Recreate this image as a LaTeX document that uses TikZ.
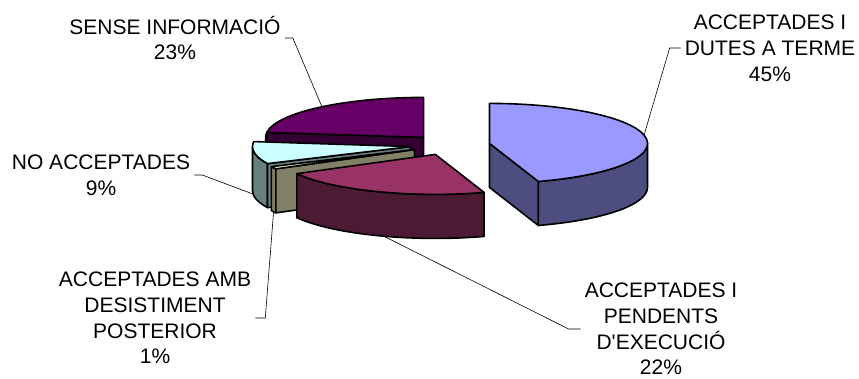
\documentclass[tikz,border=0pt]{standalone}
\usepackage{fontspec}
\setmainfont{Liberation Sans}
\usetikzlibrary{calc}
\definecolor{blue1}{HTML}{9999FF}
\definecolor{blue2}{HTML}{4D4D80}
\definecolor{maroon1}{HTML}{993366}
\definecolor{maroon2}{HTML}{4D1A33}
\definecolor{khaki1}{HTML}{FFFFCC}
\definecolor{khaki2}{HTML}{808066}
\definecolor{cyan1}{HTML}{CCFFFF}
\definecolor{cyan2}{HTML}{668080}
\definecolor{purple1}{HTML}{660066}
\definecolor{purple2}{HTML}{330033}
\begin{document}
\begin{tikzpicture}
[x=1pt, y=1pt,
slice/.style ={draw=black, line width=1.6pt, line join=round},
txt/.style ={align=center, inner sep=3pt, font=\fontsize{21}{25.8}\selectfont},
callout/.style ={draw, line width=0.6pt}]
\useasboundingbox (0,0) rectangle (859,-378);
%% sense informacio
\begin{scope}[shift={(450,-145)}, shift={(131.4:40 and 10.1)}]
\filldraw [slice, fill=purple2] (172.8:158 and 40) arc[start angle=172.8, end angle=180, x radius=158, y radius=40] -- ++(0,-44) arc[start angle=180, end angle=172.8, x radius=158, y radius=40] -- cycle;
\filldraw [slice, fill=purple2] (0,0) -- (172.8:158 and 40) -- ++(0,-44) -- (0,-44) -- cycle;
\filldraw [slice, fill=purple1] (0,0) -- (90:158 and 40) arc[start angle=90, end angle=172.8, x radius=158, y radius=40] -- cycle;
\coordinate (sensept) at (130:158 and 40);
\end{scope}
%% no acceptades
\begin{scope}[shift={(450,-145)}, shift={(189:40 and 10.1)}]
\filldraw [slice, fill=cyan2] (180:158 and 40) arc[start angle=180, end angle=205.2, x radius=158, y radius=40] -- ++(0,-44) arc[start angle=205.2, end angle=180, x radius=158, y radius=40] -- cycle;
\filldraw [slice, fill=cyan2] (0,0) -- (205.2:158 and 40) -- ++(0,-44) -- (0,-44) -- cycle;
\filldraw [slice, fill=cyan1] (0,0) -- (172.8:158 and 40) arc[start angle=172.8, end angle=205.2, x radius=158, y radius=40] -- cycle;
\coordinate (noaccpt) at ($(185:158 and 40)+(0,-44)$);
\end{scope}
%% desistiment
\begin{scope}[shift={(450,-145)}, shift={(207:40 and 10.1)}]
\filldraw [slice, fill=khaki2] (205.2:158 and 40) arc[start angle=205.2, end angle=208.8, x radius=158, y radius=40] -- ++(0,-44) arc[start angle=208.8, end angle=205.2, x radius=158, y radius=40] -- cycle;
\filldraw [slice, fill=khaki2] (0,0) -- (208.8:158 and 40) -- ++(0,-44) -- (0,-44) -- cycle;
\filldraw [slice, fill=khaki1] (0,0) -- (205.2:158 and 40) arc[start angle=205.2, end angle=208.8, x radius=158, y radius=40] -- cycle;
\coordinate (desistpt) at ($(207:158 and 40)+(0,-44)$);
\end{scope}
%% pendents
\begin{scope}[shift={(450,-145)}, shift={(248.4:40 and 10.1)}]
\filldraw [slice, fill=maroon2] (208.8:158 and 40) arc[start angle=208.8, end angle=288, x radius=158, y radius=40] -- ++(0,-44) arc[start angle=288, end angle=208.8, x radius=158, y radius=40] -- cycle;
\filldraw [slice, fill=maroon1] (0,0) -- (208.8:158 and 40) arc[start angle=208.8, end angle=288, x radius=158, y radius=40] -- cycle;
\coordinate (pendpt) at ($(251:158 and 40)+(0,-44)$);
\end{scope}
%% dutes a terme
\begin{scope}[shift={(450,-145)}, shift={(9:40 and 10.1)}]
\filldraw [slice, fill=blue2] (0,0) -- (-72:158 and 40) -- ++(0,-44) -- (0,-44) -- cycle;
\filldraw [slice, fill=blue2] (-72:158 and 40) arc[start angle=-72, end angle=0, x radius=158, y radius=40] -- ++(0,-44) arc[start angle=0, end angle=-72, x radius=158, y radius=40] -- cycle;
\filldraw [slice, fill=blue1] (0,0) -- (-72:158 and 40) arc[start angle=-72, end angle=90, x radius=158, y radius=40] -- cycle;
\coordinate (dutespt) at (12:158 and 40);
\end{scope}

\node [txt] (sense)  at (175,-38)  {SENSE INFORMACIÓ\\23\%};
\node [txt] (noacc)  at (101,-175) {NO ACCEPTADES\\9\%};
\node [txt] (desist) at (155,-318) {ACCEPTADES AMB\\DESISTIMENT\\POSTERIOR\\1\%};
\node [txt] (dutes)  at (770,-48)  {ACCEPTADES I\\DUTES A TERME\\45\%};
\node [txt] (pend)   at (661,-329) {ACCEPTADES I\\PENDENTS\\D\textquotesingle EXECUCIÓ\\22\%};

\draw [callout] ([xshift=1pt]sense.east) -- ++(8,0) -- (sensept);
\draw [callout] ([xshift=1pt]noacc.east) -- ++(8,0) -- (noaccpt);
\draw [callout] ([xshift=1pt]desist.east) -- ++(10,0) -- (desistpt);
\draw [callout] ([xshift=-1pt]dutes.west) -- ++(-11,0) -- (dutespt);
\draw [callout] ([xshift=-1pt]pend.west) -- ++(-12,0) -- (pendpt);
\end{tikzpicture}
\end{document}
